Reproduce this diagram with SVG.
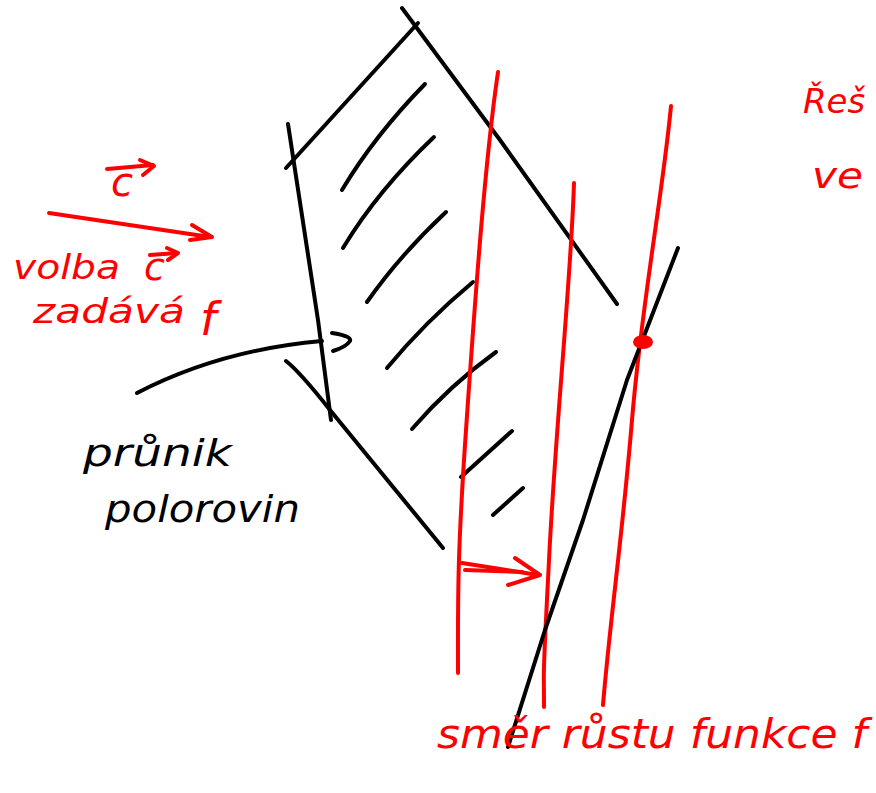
<svg xmlns="http://www.w3.org/2000/svg" width="876" height="793" viewBox="0 0 876 793">
<style>
.k{fill:none;stroke:#000;stroke-width:4;stroke-linecap:round;stroke-linejoin:round}
.r{fill:none;stroke:#ff0000;stroke-width:4;stroke-linecap:round;stroke-linejoin:round}
.t{font-family:"DejaVu Sans",sans-serif;font-style:italic;fill:#ff0000}
.tb{font-family:"DejaVu Sans",sans-serif;font-style:italic;fill:#000}
</style>
<rect width="876" height="793" fill="#fff"/>
<g id="feasible-region">
<path class="k" d="M402,8 L500,140 L617,304"/>
<path class="k" d="M418,23 L286,168"/>
<path class="k" d="M288,124 L318,320 L331,420"/>
<path class="k" d="M286,361 Q300,372 330,410 L443,548"/>
</g>
<g id="hatching">
<path class="k" d="M425,84 Q375,135 342,190"/>
<path class="k" d="M434,137 Q378,190 343,248"/>
<path class="k" d="M446,212 Q400,255 367,302"/>
<path class="k" d="M473,282 Q425,322 387,368"/>
<path class="k" d="M496,352 Q450,385 412,429"/>
<path class="k" d="M512,431 L461,477"/>
<path class="k" d="M523,488 L493,515"/>
</g>
<g id="level-lines">
<path class="r" d="M498,72 C485,160 475,300 466,430 S458,600 458,673"/>
<path class="r" d="M574,183 C571,280 556,420 549,560 S544,650 544,707"/>
<path class="r" d="M671,106 C662,200 642,300 632,420 S610,620 603,705"/>
</g>
<g id="optimum-line">
<path class="k" d="M678,248 L627,380 L583,520 L545,630 L508,747"/>
</g>
<g id="optimum-point">
<ellipse cx="643" cy="342" rx="10" ry="7" fill="#ff0000"/>
</g>
<g id="connectors">
<path class="k" d="M137,393 Q220,350 322,341"/>
<path class="k" d="M332,333 Q352,336 350,341 Q346,347 333,351"/>
<path class="r" d="M49,213 L210,237"/>
<path class="r" d="M192,225 L212,237 L190,240"/>
<path class="r" d="M107,169 L153,165"/>
<path class="r" d="M140,160 L154,166 L143,175"/>
<path class="r" d="M150,255 L177,253"/>
<path class="r" d="M167,248 L178,253 L168,260"/>
<path class="r" d="M462,563 L538,575"/>
<path class="r" d="M465,570 L522,572"/>
<path class="r" d="M515,558 L540,575 L508,585"/>
</g>
<g id="labels">
<text class="t" x="111" y="196" font-size="40">c</text>
<text class="t" x="13" y="279" font-size="34" textLength="107" lengthAdjust="spacingAndGlyphs">volba</text>
<text class="t" x="144" y="280" font-size="38">c</text>
<text class="t" x="33" y="323" font-size="34" textLength="152" lengthAdjust="spacingAndGlyphs">zadává</text>
<text class="t" x="200" y="335" font-size="46">f</text>
<text class="tb" x="83" y="466" font-size="38" textLength="149" lengthAdjust="spacingAndGlyphs">průnik</text>
<text class="tb" x="105" y="522" font-size="38" textLength="195" lengthAdjust="spacingAndGlyphs">polorovin</text>
<text class="t" x="437" y="748" font-size="40" textLength="430" lengthAdjust="spacingAndGlyphs">směr růstu funkce f</text>
<text class="t" x="803" y="113" font-size="34">Řeš</text>
<text class="t" x="812" y="188" font-size="36" textLength="51" lengthAdjust="spacingAndGlyphs">ve</text>
</g>
</svg>
